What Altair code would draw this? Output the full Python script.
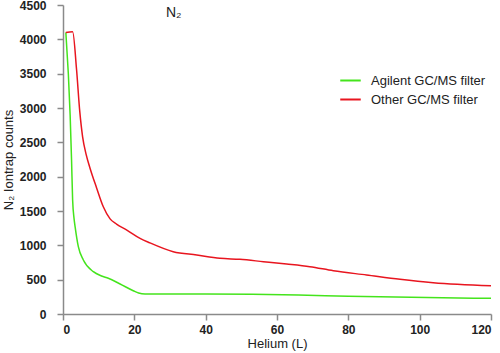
import altair as alt
import pandas as pd

series_names = ["Agilent GC/MS filter", "Other GC/MS filter"]

green_x = [0.8, 2.0, 2.4, 2.7, 3.1, 3.4, 4.3, 5.7, 8.5, 10.8, 12.7, 16.0, 19.7, 21.2, 23.0, 27.0, 40.0, 66.0, 80.0, 120.0]
green_y = [4100, 2900, 2240, 1660, 1390, 1270, 980, 786, 616, 553, 520, 437, 339, 305, 290, 291, 291, 277, 258, 228]

red_x = [0.8, 2.7, 3.8, 4.7, 5.5, 6.5, 7.6, 9.4, 11.3, 13.2, 15.0, 17.9, 21.6, 24.4, 30.9, 37.5, 44.0,
         49.6, 56.2, 62.7, 69.2, 75.8, 85.1, 94.5, 103.8, 120.0]
red_y = [4100, 4110, 3560, 2950, 2580, 2320, 2120, 1840, 1562, 1385, 1310, 1223, 1102, 1035, 907, 859, 811,
         796, 762, 728, 689, 630, 568, 505, 456, 412]

x_ticks = [0, 20, 40, 60, 80, 100, 120]
y_ticks = [0, 500, 1000, 1500, 2000, 2500, 3000, 3500, 4000, 4500]

rows = []
for i, (x, y) in enumerate(zip(green_x, green_y)):
    rows.append({"series": series_names[0], "helium": x, "counts": y, "order": i})
for i, (x, y) in enumerate(zip(red_x, red_y)):
    rows.append({"series": series_names[1], "helium": x, "counts": y, "order": i})
df = pd.DataFrame(rows)

axis_font = "Liberation Sans, Arial, sans-serif"

chart = alt.Chart(df).mark_line(strokeWidth=1.5, interpolate="monotone").encode(
    x=alt.X("helium:Q", title="Helium (L)",
            scale=alt.Scale(domain=[0, 120], nice=False),
            axis=alt.Axis(values=x_ticks, format="d", grid=False)),
    y=alt.Y("counts:Q", title="N₂ Iontrap counts",
            scale=alt.Scale(domain=[0, 4500], nice=False),
            axis=alt.Axis(values=y_ticks, format="d", grid=False)),
    color=alt.Color("series:N",
                    scale=alt.Scale(domain=series_names, range=["#44e41c", "#e8151f"]),
                    legend=alt.Legend(title=None, orient="none", legendX=276, legendY=64,
                                      symbolType="stroke", symbolSize=420, symbolStrokeWidth=2,
                                      labelFont="Liberation Sans, sans-serif", labelFontSize=13,
                                      labelColor="#222222", labelOffset=9, rowPadding=0)),
    order="order:Q",
).properties(
    width=428,
    height=309,
    padding={"left": 63, "top": 5, "right": 9, "bottom": 39},
    autosize=alt.AutoSizeParams(type="none"),
    title=alt.TitleParams("N₂", anchor="start", frame="group", dx=103, offset=-21, fontSize=14,
                          font="Liberation Sans, sans-serif", fontWeight="normal", color="#222222"),
).configure_view(
    stroke=None
).configure_axis(
    domainColor="#8a8a8a", domainWidth=1.5, tickColor="#8a8a8a", tickWidth=1.5, tickSize=6,
    labelFont=axis_font, labelFontSize=12, labelFontWeight="bold", labelColor="#222222",
    titleFont=axis_font, titleFontSize=13, titleFontWeight="normal", titleColor="#222222",
).configure_axisY(
    labelPadding=11, titlePadding=4
).configure_axisX(
    labelPadding=4, titlePadding=2
)

chart.save("out.html", embed_options={"renderer": "svg", "actions": False})
